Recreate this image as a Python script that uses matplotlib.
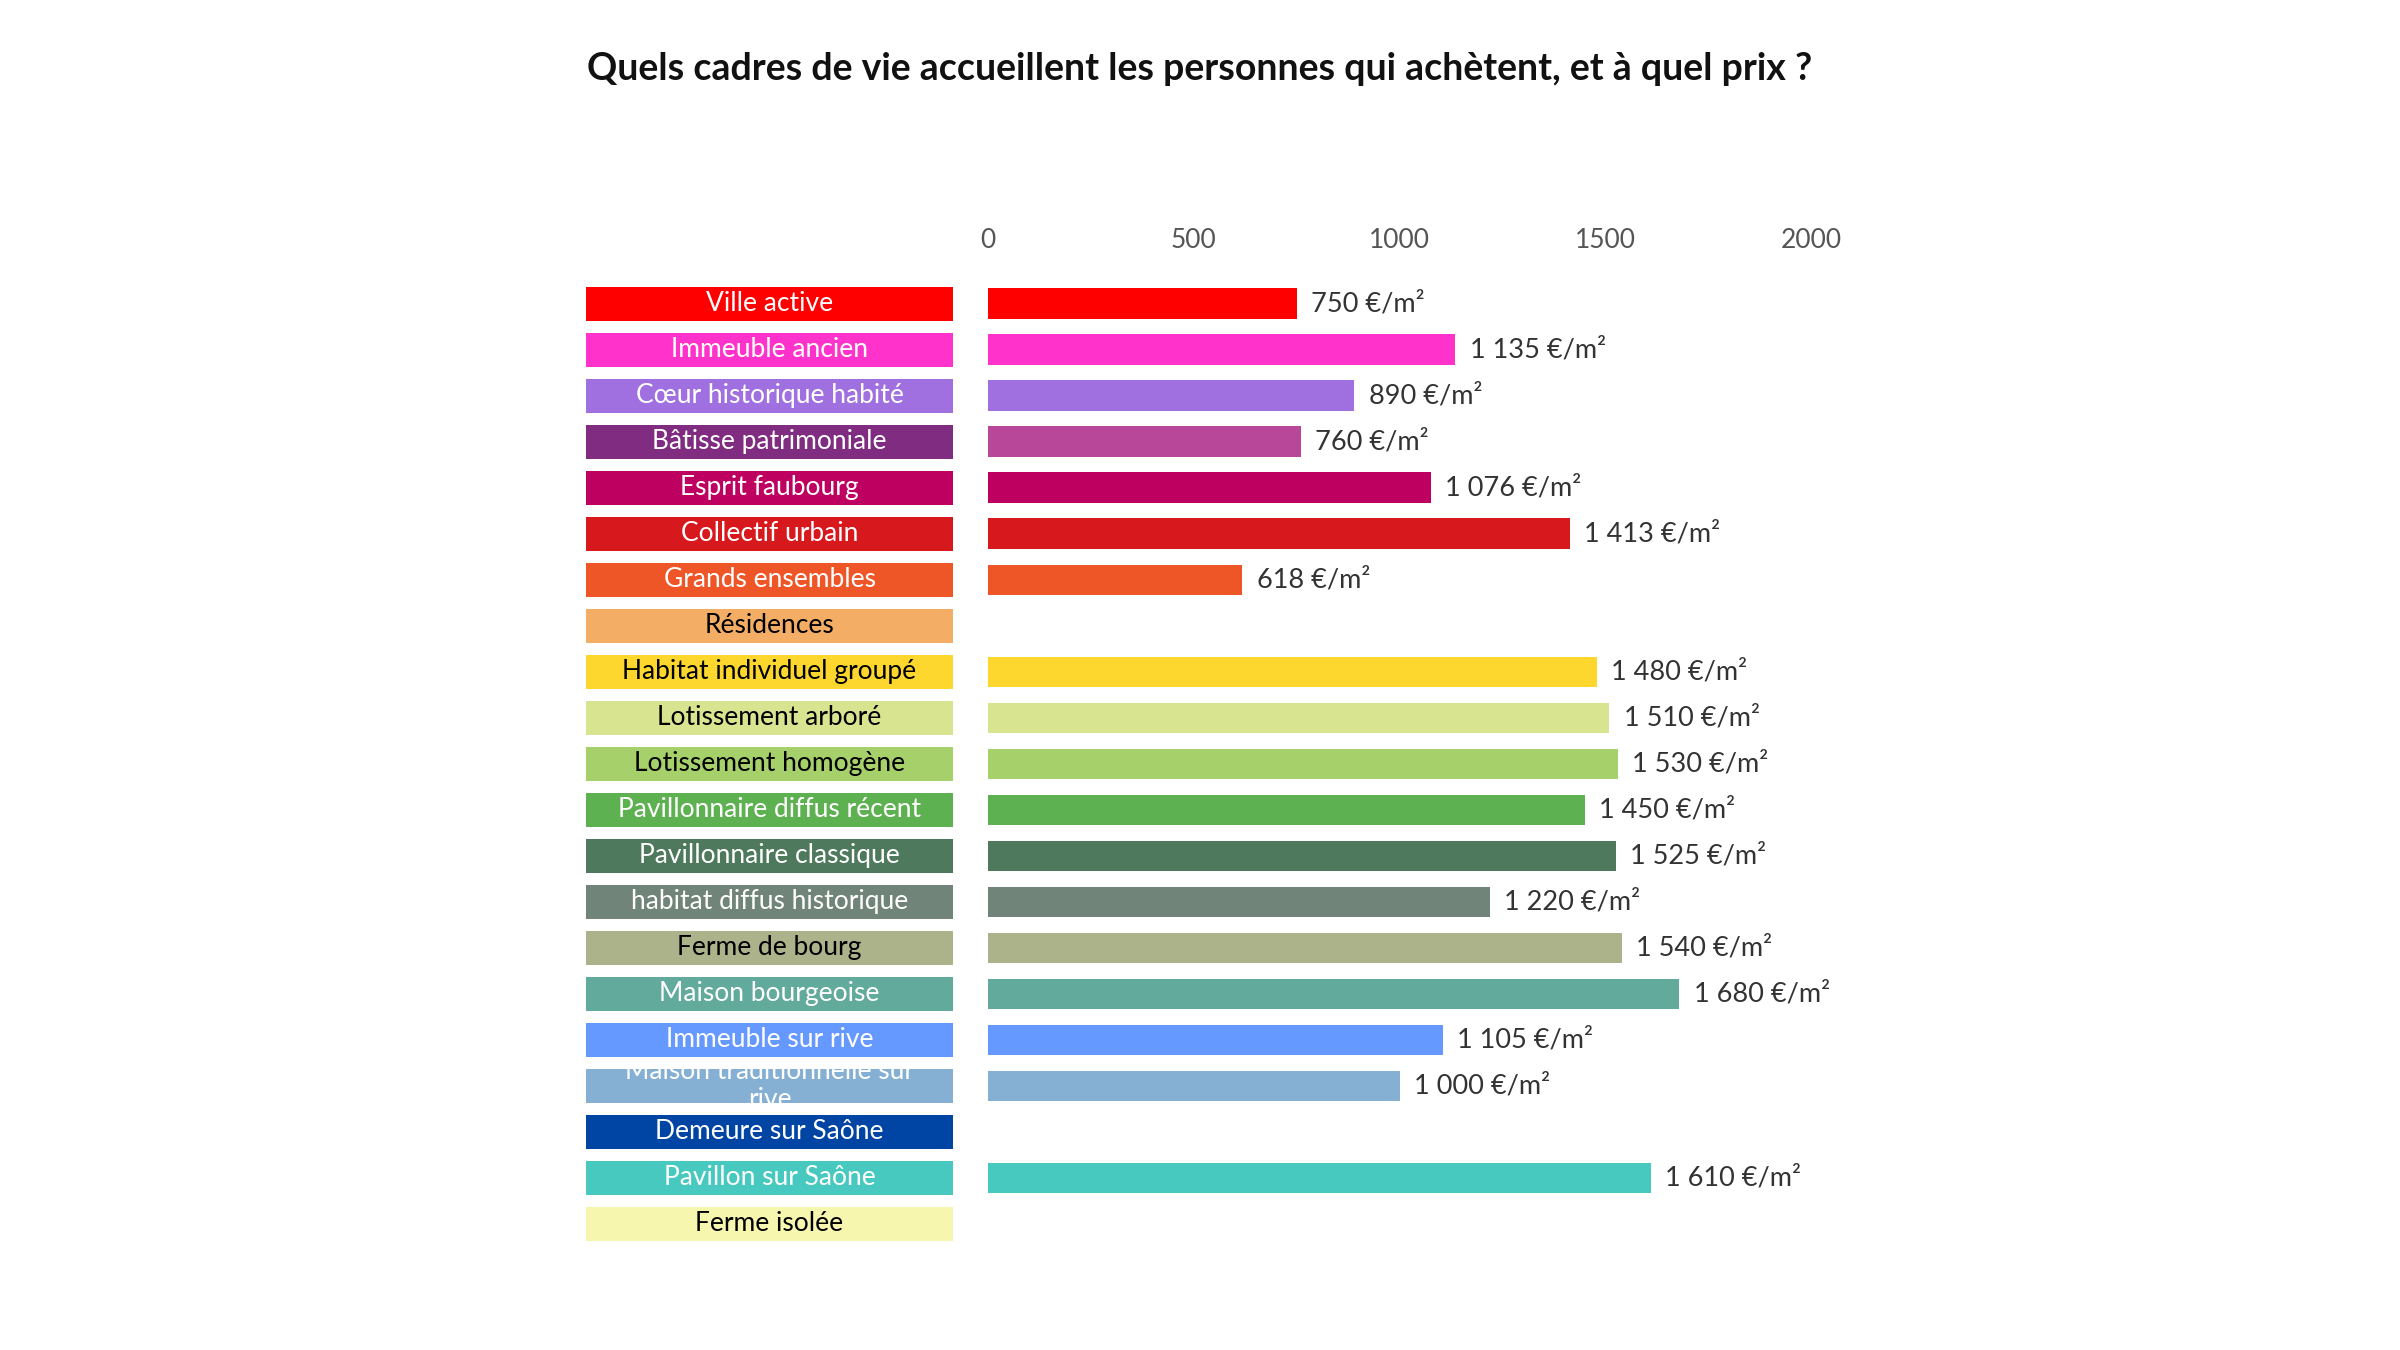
import matplotlib.pyplot as plt

plt.rcParams['font.family'] = ['Lato', 'DejaVu Sans']

# Data
categories = [
    "Ville active", "Immeuble ancien", "Cœur historique habité", "Bâtisse patrimoniale",
    "Esprit faubourg", "Collectif urbain", "Grands ensembles", "Résidences",
    "Habitat individuel groupé", "Lotissement arboré", "Lotissement homogène",
    "Pavillonnaire diffus récent", "Pavillonnaire classique", "habitat diffus historique",
    "Ferme de bourg", "Maison bourgeoise", "Immeuble sur rive",
    "Maison traditionnelle sur\nrive", "Demeure sur Saône", "Pavillon sur Saône", "Ferme isolée",
]
prices = [750, 1135, 890, 760, 1076, 1413, 618, None, 1480, 1510, 1530,
          1450, 1525, 1220, 1540, 1680, 1105, 1000, None, 1610, None]
price_labels = ["750", "1 135", "890", "760", "1 076", "1 413", "618", "", "1 480", "1 510",
                "1 530", "1 450", "1 525", "1 220", "1 540", "1 680", "1 105", "1 000", "",
                "1 610", ""]
label_colors = ["#FF0000", "#FF33CC", "#A070E0", "#802C80", "#BE0060", "#D7181C", "#EE5527",
                "#F4AD64", "#FDD62E", "#D9E490", "#A6D06A", "#5EB150", "#4E795C", "#718479",
                "#ACB289", "#62AA9B", "#6699FF", "#85B0D4", "#0044A4", "#47C9BF", "#F6F6AF"]
bar_colors = label_colors.copy()
bar_colors[3] = "#B8479A"
text_colors = ["white", "white", "white", "white", "white", "white", "white", "black",
               "black", "black", "black", "white", "white", "white", "black", "white",
               "white", "white", "white", "white", "black"]
ticks = [0, 500, 1000, 1500, 2000]

fig = plt.figure(figsize=(24, 13.5), dpi=100)
fig.text(0.5, 0.949, "Quels cadres de vie accueillent les personnes qui achètent, et à quel prix ?",
         ha="center", va="center", fontsize=27, fontweight="bold", color="#111111")

n = len(categories)
ypos = list(range(n))

# label boxes
ax_l = fig.add_axes([0.2442, 0.0765, 0.1529, 0.7156])
rects = ax_l.barh(ypos, [1] * n, height=0.74, color=label_colors)
for y, cat, tc, r in zip(ypos, categories, text_colors, rects):
    t = ax_l.text(0.5, y, cat, ha="center", va="center", fontsize=19, color=tc,
                  linespacing=1.15)
    t.set_clip_path(r)
ax_l.set_xlim(0, 1)
ax_l.set_ylim(n - 0.5, -0.5)
ax_l.axis("off")

# price bars
ax = fig.add_axes([0.4117, 0.0765, 0.3429, 0.7156])
vals = [p if p is not None else 0 for p in prices]
ax.barh(ypos, vals, height=0.66, color=bar_colors)
for y, p, lab in zip(ypos, prices, price_labels):
    if p is None:
        continue
    ax.text(p + 35, y, f"{lab} €/m²", ha="left", va="center", fontsize=19.5,
            color="#333333", clip_on=False)
ax.set_xlim(0, 2000)
ax.set_ylim(n - 0.5, -0.5)
for t in ticks:
    ax.text(t, -1.38, str(t), ha="center", va="center", fontsize=19, color="#555555")
ax.axis("off")

fig.savefig("out.png", dpi=100, facecolor="white")
